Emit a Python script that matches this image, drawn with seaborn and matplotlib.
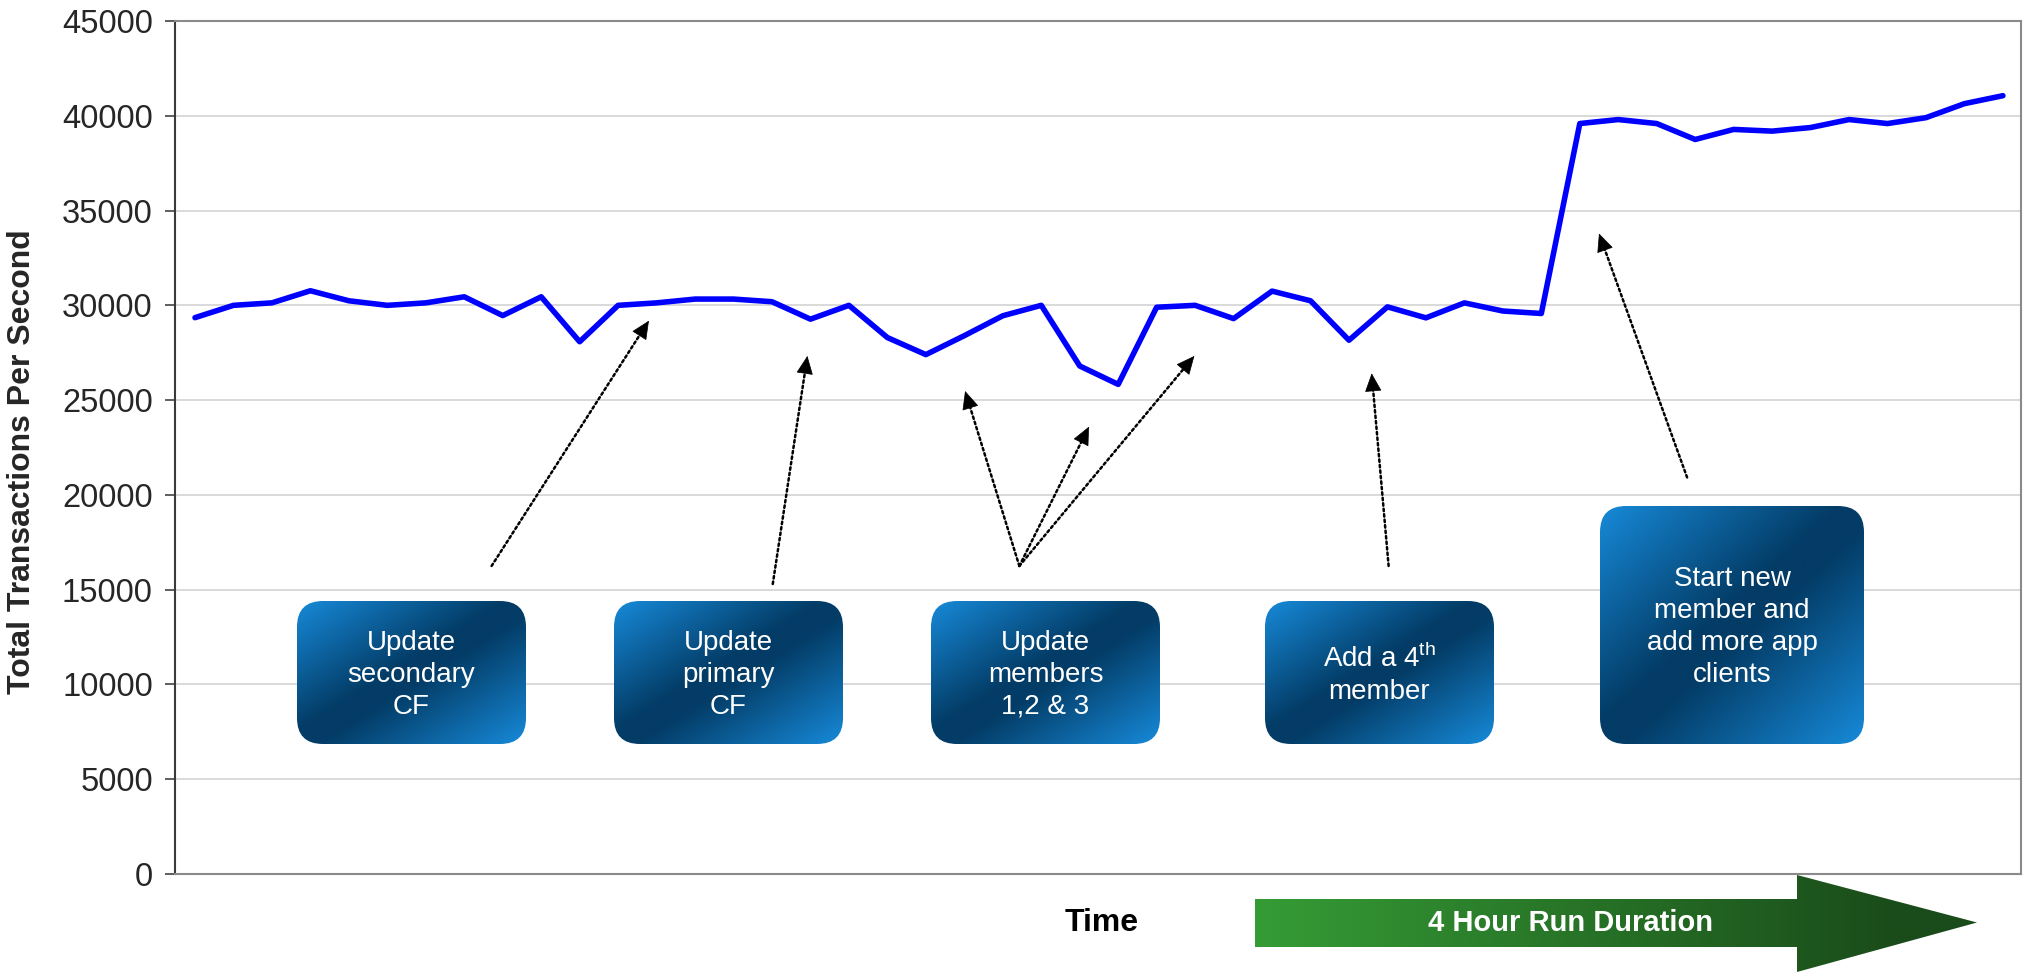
import numpy as np
import pandas as pd
import matplotlib
matplotlib.use("Agg")
import matplotlib.pyplot as plt
import seaborn as sns
from matplotlib.patches import FancyBboxPatch, Polygon
from matplotlib.colors import to_rgb

# ---- data -------------------------------------------------------------
tps = [29350, 30000, 30130, 30770, 30240, 30000, 30130, 30450, 29460, 30450,
       28080, 30000, 30130, 30330, 30330, 30190, 29270, 30000, 28300, 27400,
       28400, 29450, 30000, 26800, 25830, 29900, 30000, 29300, 30750, 30240,
       28160, 29920, 29340, 30130, 29700, 29570, 39590, 39800, 39590, 38750,
       39280, 39190, 39380, 39800, 39590, 39900, 40640, 41060]
y_ticks = [0, 5000, 10000, 15000, 20000, 25000, 30000, 35000, 40000, 45000]
y_label = "Total Transactions Per Second"
x_label = "Time"
run_label = "4 Hour Run Duration"

events = [
    "Update\nsecondary\nCF",
    "Update\nprimary\nCF",
    "Update\nmembers\n1,2 & 3",
    "Add a 4$^{\\mathrm{th}}$\nmember",
    "Start new\nmember and\nadd more app\nclients",
]

df = pd.DataFrame({"step": np.arange(len(tps)), "tps": tps})

# ---- style ------------------------------------------------------------
sns.set_style("white")
plt.rcParams["font.family"] = ["Liberation Sans", "DejaVu Sans"]
plt.rcParams["mathtext.fontset"] = "custom"
plt.rcParams["mathtext.rm"] = "Liberation Sans"

W, H, DPI = 2028, 972, 100
fig = plt.figure(figsize=(W / DPI, H / DPI), dpi=DPI)
L, R, T, B = 175, 2021, 21, 874
ax = fig.add_axes([L / W, 1 - B / H, (R - L) / W, (B - T) / H])

sns.lineplot(data=df, x="step", y="tps", ax=ax, color="#0000ff",
             linewidth=4.0, zorder=3)

ax.set_xlim(-0.52, len(tps) - 0.53)
ax.set_ylim(0, 45000)
ax.set_yticks(y_ticks)
ax.set_yticklabels([str(v) for v in y_ticks])
ax.set_xticks([])
ax.set_xlabel("")
ax.set_ylabel("")
ax.grid(axis="y", color="#cfcfcf", linewidth=1.1, zorder=0)
ax.set_axisbelow(True)
ax.tick_params(axis="y", which="major", direction="out", length=7, width=1.1,
               color="#333333", labelsize=23.5, pad=9, left=True)
for side in ("top", "right", "bottom"):
    ax.spines[side].set_color("#8a8a8a")
    ax.spines[side].set_linewidth(1.5)
ax.spines["left"].set_color("#3a3a3a")
ax.spines["left"].set_linewidth(1.5)

fig.text(22 / W, 1 - 462 / H, y_label, rotation=90, ha="center", va="center",
         fontsize=23, fontweight="bold")

# ---- dotted pointer arrows (data coordinates) -------------------------
pointers = [
    ((7.71, 16250), (11.80, 29190)),
    ((15.02, 15300), (15.92, 27330)),
    ((21.43, 16250), (20.02, 25480)),
    ((21.43, 16250), (23.24, 23600)),
    ((21.43, 16250), (25.98, 27330)),
    ((31.03, 16250), (30.59, 26410)),
    ((38.79, 20920), (36.50, 33790)),
]
for start, tip in pointers:
    ax.annotate("", xy=tip, xytext=start,
                arrowprops=dict(arrowstyle="-", linestyle=(0, (1, 1.2)),
                                lw=1.8, color="black", shrinkA=0, shrinkB=8))
    back = (tip[0] + (start[0] - tip[0]) * 0.02, tip[1] + (start[1] - tip[1]) * 0.02)
    ax.annotate("", xy=tip, xytext=back,
                arrowprops=dict(arrowstyle="-|>,head_length=12,head_width=5.5",
                                mutation_scale=1, lw=0.5, color="black",
                                shrinkA=0, shrinkB=0))

# ---- overlay in pixel coordinates for boxes and the run arrow ---------
ov = fig.add_axes([0, 0, 1, 1], zorder=5)
ov.set_xlim(0, W)
ov.set_ylim(H, 0)
ov.axis("off")

light = np.array(to_rgb("#178ad9"))
dark = np.array(to_rgb("#033c66"))
n = 256
u = np.linspace(0, 1, n)
uu, ww = np.meshgrid(u, u)
s = (uu + ww) / 2.0
tri = 1 - np.abs(2 * s - 1)
tri = np.clip(tri * 1.1, 0, 1)
box_grad = light[None, None, :] * (1 - tri[..., None]) + dark[None, None, :] * tri[..., None]

boxes = [
    (297, 601, 526, 744),
    (614, 601, 843, 744),
    (931, 601, 1160, 744),
    (1265, 601, 1494, 744),
    (1600, 506, 1864, 744),
]
for (x0, y0, x1, y1), label in zip(boxes, events):
    patch = FancyBboxPatch((x0, y0), x1 - x0, y1 - y0,
                           boxstyle="round,pad=0,rounding_size=26",
                           facecolor="none", edgecolor="none")
    ov.add_patch(patch)
    im = ov.imshow(box_grad, extent=[x0, x1, y1, y0], origin="upper",
                   aspect="auto", interpolation="bilinear", zorder=2)
    im.set_clip_path(patch)
    ov.text((x0 + x1) / 2, (y0 + y1) / 2 + 2, label, ha="center", va="center",
            color="white", fontsize=20, linespacing=1.3, zorder=3)

# green run-duration arrow
arrow_pts = [(1255, 899), (1797, 899), (1797, 875), (1977, 922.5),
             (1797, 972), (1797, 947), (1255, 947)]
green_l = np.array(to_rgb("#359c35"))
green_r = np.array(to_rgb("#1a4b1a"))
gx = np.clip(np.linspace(0, 1.12, 400), 0, 1)
green_grad = (green_l[None, :] * (1 - gx[:, None]) + green_r[None, :] * gx[:, None])[None, :, :]
garrow = Polygon(arrow_pts, closed=True, facecolor="none", edgecolor="none")
ov.add_patch(garrow)
gim = ov.imshow(green_grad, extent=[1255, 1977, 972, 875], origin="upper",
                aspect="auto", interpolation="bilinear", zorder=2)
gim.set_clip_path(garrow)
ov.text(1570, 923, run_label, ha="center", va="center", color="white",
        fontsize=21, fontweight="bold", zorder=3)
ov.text(1102, 923, x_label, ha="center", va="center", color="black",
        fontsize=23, fontweight="bold", zorder=3)
ov.set_xlim(0, W)
ov.set_ylim(H, 0)

fig.savefig("out.png", dpi=DPI)
